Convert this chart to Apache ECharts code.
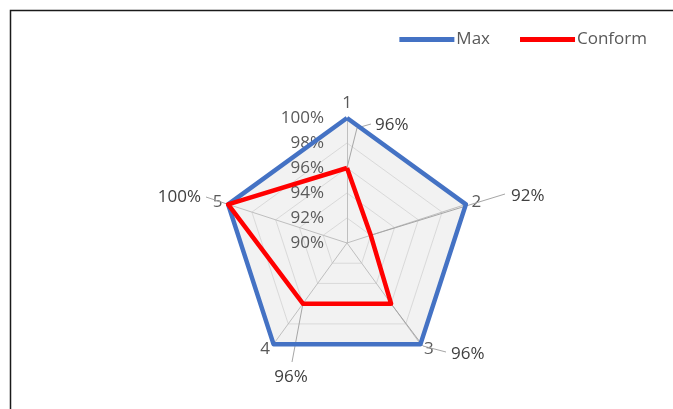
<!DOCTYPE html>
<html>
<head>
<meta charset="utf-8">
<script src="https://cdn.jsdelivr.net/npm/echarts@6/dist/echarts.min.js"></script>
<style>
    html, body { margin: 0; padding: 0; background: #fff; }
    #chart { width: 673px; height: 409px; }
</style>
</head>
<body>
<div id="chart"></div>
<script>
let axis_names = ['1', '2', '3', '4', '5'];
let max_values = [100, 100, 100, 100, 100];
let conform_values = [96, 92, 96, 96, 100];
let tick_min = 90;
let tick_max = 100;
let tick_step = 2;

// radar geometry
let cx = 347, cy = 243, R = 125;

// where each conform label goes (leader line bends / text spot / alignment)
let label_layout = [
    {line: [[357, 128], [371, 124]], text: [375, 125], align: 'left'},
    {line: [[505, 194]], text: [511, 196], align: 'left'},
    {line: [[423, 346], [446, 352]], text: [451, 354], align: 'left'},
    {line: [[292, 362]], text: [291, 377], align: 'center'},
    {line: [[206, 197]], text: [201, 197], align: 'right'}
];

// echarts lays radar axes out counter-clockwise, excel goes clockwise
let order = [0];
for (let i = axis_names.length - 1; i > 0; i--) order.push(i);
function reorder(arr) {
    return order.map(function (k) { return arr[k]; });
}

function radar_point(i, v) {
    let ang = Math.PI / 2 - i * 2 * Math.PI / axis_names.length;
    let r = R * (v - tick_min) / (tick_max - tick_min);
    return [cx + r * Math.cos(ang), cy - r * Math.sin(ang)];
}

let font = '"Open Sans", "Liberation Sans", sans-serif';

let graphics = [{
    type: 'rect',
    shape: {x: 10.5, y: 10.5, width: 800, height: 600},
    style: {fill: null, stroke: '#1a1a1a', lineWidth: 1.5},
    z: 10
}];
conform_values.forEach(function (v, i) {
    let p = radar_point(i, v);
    let lay = label_layout[i];
    graphics.push({
        type: 'polyline',
        shape: {points: [p].concat(lay.line)},
        style: {fill: null, stroke: '#a6a6a6', lineWidth: 1},
        z: 1
    });
    graphics.push({
        type: 'text',
        x: lay.text[0],
        y: lay.text[1],
        style: {
            text: v + '%',
            font: '17px ' + font,
            fill: '#404040',
            align: lay.align,
            verticalAlign: 'middle'
        },
        z: 5
    });
});

let myChart = echarts.init(document.getElementById('chart'));

let option = {
    animation: false,
    backgroundColor: '#fff',
    legend: {
        right: 21,
        top: 26,
        icon: 'rect',
        itemWidth: 55,
        itemHeight: 5,
        itemGap: 30,
        data: ['Max', 'Conform'],
        textStyle: {color: '#595959', fontSize: 17, fontFamily: font, padding: [0, 0, 0, -3]}
    },
    // tick labels along the first axis
    grid: {left: cx, top: cy - R, width: 1, height: R},
    xAxis: {type: 'value', show: false},
    yAxis: {
        type: 'value',
        min: tick_min,
        max: tick_max,
        interval: tick_step,
        axisLine: {show: false},
        axisTick: {show: false},
        splitLine: {show: false},
        axisLabel: {
            formatter: '{value}%',
            margin: 23,
            color: '#595959',
            fontSize: 17,
            fontFamily: font
        }
    },
    radar: {
        center: [cx, cy],
        radius: R,
        startAngle: 90,
        splitNumber: (tick_max - tick_min) / tick_step,
        shape: 'polygon',
        indicator: reorder(axis_names).map(function (n) {
            return {name: n, min: tick_min, max: tick_max};
        }),
        axisName: {color: '#595959', fontSize: 17, fontFamily: font},
        nameGap: 6,
        axisLine: {lineStyle: {color: '#bfbfbf', width: 1}},
        splitLine: {lineStyle: {color: '#d9d9d9', width: 1}},
        splitArea: {show: true, areaStyle: {color: ['#f2f2f2', '#f2f2f2']}},
        axisLabel: {show: false}
    },
    series: [{
        type: 'radar',
        symbol: 'none',
        data: [
            {name: 'Max', value: reorder(max_values), lineStyle: {color: '#4472C4', width: 4.5}, itemStyle: {color: '#4472C4'}},
            {name: 'Conform', value: reorder(conform_values), lineStyle: {color: '#FF0000', width: 4.5}, itemStyle: {color: '#FF0000'}}
        ]
    }],
    graphic: graphics
};

myChart.setOption(option);
</script>
</body>
</html>
